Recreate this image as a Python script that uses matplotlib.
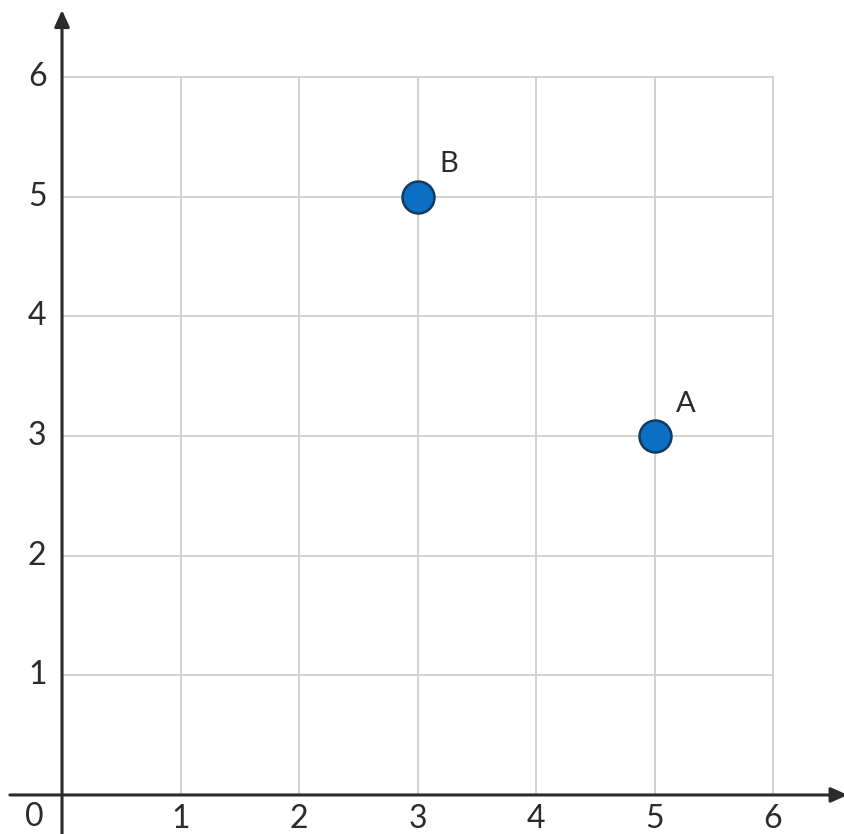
import matplotlib
matplotlib.use("Agg")
import matplotlib.pyplot as plt

# data
point_names = ["A", "B"]
point_x = [5, 3]
point_y = [3, 5]
ticks = [1, 2, 3, 4, 5, 6]

C_GRID = "#cfcfcf"
C_AXIS = "#2b2b2b"
C_DOT = "#0b6fc4"
C_EDGE = "#163a5e"

plt.rcParams["font.family"] = ["Lato", "DejaVu Sans"]

fig = plt.figure(figsize=(8.45, 8.34), dpi=100)
ax = fig.add_axes([0.0734, 0.0468, 0.8414, 0.8609])
ax.set_xlim(0, 6)
ax.set_ylim(0, 6)
ax.axis("off")

# grid
for t in ticks:
    ax.plot([t, t], [0, 6], color=C_GRID, lw=1.3, zorder=1, clip_on=False)
    ax.plot([0, 6], [t, t], color=C_GRID, lw=1.3, zorder=1, clip_on=False)

# axes with arrows
arrow = dict(arrowstyle="-|>,head_length=1.0,head_width=0.45", color=C_AXIS,
             lw=2.2, shrinkA=0, shrinkB=0)
ax.annotate("", xy=(6.63, 0), xytext=(-0.44, 0), arrowprops=arrow,
            annotation_clip=False, zorder=3)
ax.annotate("", xy=(0, 6.56), xytext=(0, -0.35), arrowprops=arrow,
            annotation_clip=False, zorder=3)

# tick labels
lbl = dict(ha="center", va="center", fontsize=23, color=C_AXIS, clip_on=False)
for t in ticks:
    ax.text(t, -0.2, str(t), **lbl)
    ax.text(-0.21, t, str(t), **lbl)
ax.text(-0.23, -0.18, "0", **lbl)

# points
ax.plot(point_x, point_y, "o", ms=23, mfc=C_DOT, mec=C_EDGE, mew=1.8,
        zorder=4, clip_on=False)
for name, x, y in zip(point_names, point_x, point_y):
    ax.text(x + 0.26, y + 0.27, name, ha="center", va="center", fontsize=21,
            color=C_AXIS)

fig.savefig("out.png", dpi=100)
